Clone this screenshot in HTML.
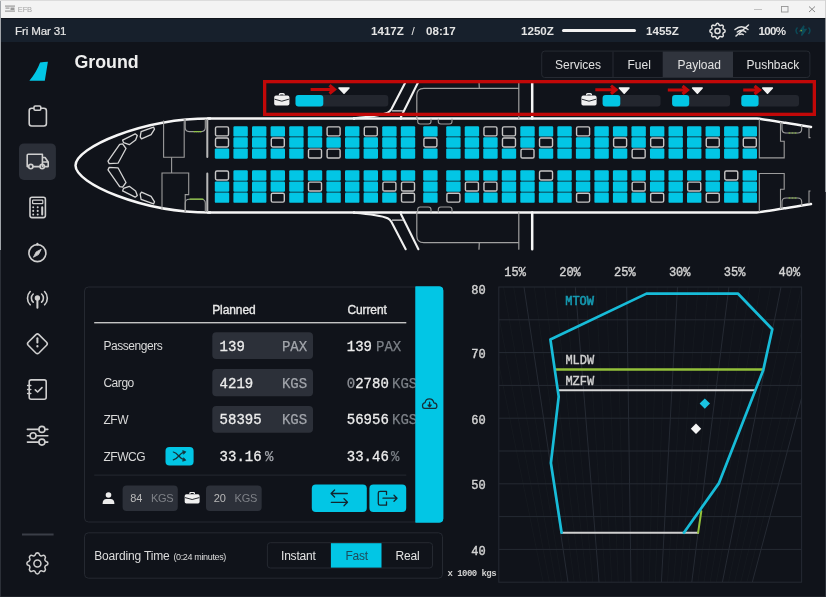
<!DOCTYPE html>
<html><head><meta charset="utf-8">
<style>
html,body{margin:0;padding:0;}
body{width:826px;height:597px;overflow:hidden;background:#10131a;position:relative;font-family:"Liberation Sans",sans-serif;}
svg{position:absolute;left:0;top:0;will-change:transform;}
.s{font-family:"Liberation Sans",sans-serif;}
.m{font-family:"Liberation Mono",monospace;}
</style></head><body>
<svg width="826" height="597" viewBox="0 0 826 597">
<!-- title bar -->
<rect x="0" y="0" width="826" height="18" fill="#f3f3f3"/>
<rect x="0" y="18" width="826" height="24" fill="#17202c"/>
<rect x="0" y="18" width="826" height="1" fill="#10141b"/>
<!-- window borders -->
<rect x="0" y="0" width="1" height="250" fill="#a0a4a9"/>
<rect x="0" y="250" width="1" height="347" fill="#2c3038"/>
<rect x="825" y="18" width="1" height="174" fill="#8c9096"/>
<rect x="825" y="192" width="1" height="405" fill="#2c3038"/>
<rect x="1" y="596" width="824" height="1" fill="#1f2229"/>
<rect x="0" y="0" width="826" height="1" fill="#dcdcdc"/>
<g fill="#9a9a9a"><rect x="5" y="5.5" width="10" height="1.2"/><rect x="5.5" y="7.5" width="4" height="1.2"/><rect x="10.5" y="7.5" width="4" height="2.5"/><rect x="5" y="10.5" width="10" height="1.2"/></g>
<text x="17.8" y="11.7" class="s" font-size="7.6" fill="#a4a4a4" letter-spacing="-0.2">EFB</text>
<line x1="754" y1="9.5" x2="762" y2="9.5" stroke="#b4b4b4" stroke-width="0.8"/>
<rect x="825" y="0" width="1" height="18" fill="#d2d2d2"/>
<rect x="781.5" y="6.5" width="6.5" height="5.5" fill="none" stroke="#959595" stroke-width="0.9"/>
<path d="M809 6.5 L815 12 M815 6.5 L809 12" stroke="#8a8a8a" stroke-width="1"/>

<!-- status bar -->
<text x="15" y="35" class="s" font-size="11.6" fill="#e4e4e4" stroke="#e4e4e4" stroke-width="0.2" letter-spacing="-0.15">Fri Mar 31</text>
<text x="371" y="34.6" class="s" font-size="11.6" font-weight="bold" fill="#e4e4e4">1417Z</text>
<text x="411.5" y="34.6" class="s" font-size="11.6" fill="#e4e4e4">/</text>
<text x="426" y="34.6" class="s" font-size="11.6" font-weight="bold" fill="#e4e4e4">08:17</text>
<text x="521" y="34.6" class="s" font-size="11.6" font-weight="bold" fill="#e4e4e4">1250Z</text>
<rect x="562" y="29" width="74" height="3" rx="1.5" fill="#f2f2f2"/>
<text x="646" y="34.6" class="s" font-size="11.6" font-weight="bold" fill="#e4e4e4">1455Z</text>
<text x="758.5" y="34.8" class="s" font-size="11.6" font-weight="bold" fill="#e4e4e4" letter-spacing="-0.7">100%</text>


<!-- SIDEBAR -->
<path d="M40.1,62.4 Q44,61.7 47.9,61.7 L44.8,80.7 L29.4,80.7 Q36.5,72 40.1,62.4 Z" fill="#02c6e5"/>
<rect x="19" y="143.4" width="36.9" height="36.6" rx="5" fill="#2b2f38"/>
<g fill="none" stroke="#cfcfcf" stroke-width="1.6" stroke-linecap="round" stroke-linejoin="round">
 <!-- clipboard -->
 <rect x="29.2" y="108.2" width="17.2" height="17.8" rx="2.5"/>
 <rect x="34" y="106" width="6.8" height="4.2" rx="1.2" fill="#10131a"/>
 <!-- truck -->
 <circle cx="30.8" cy="166.6" r="2.2"/>
 <circle cx="42.2" cy="166.6" r="2.2"/>
 <path d="M28.6,166.6 L27.2,166.6 L27.2,155.2 Q27.2,154.2 28.2,154.2 L42.4,154.2 L42.4,166.6 M33,166.6 L40,166.6 M44.4,166.6 L48.2,166.6 L48.2,162 L42.4,162 M42.4,157.5 L45,157.5 L48.2,162"/>
 <!-- calculator -->
 <rect x="30" y="197.2" width="15.4" height="20.4" rx="2"/>
 <rect x="32.6" y="200.2" width="10.2" height="3.4" rx="0.6" stroke-width="1.2"/>
 <path d="M33.2,207.2 L33.2,207.3 M37.7,207.2 L37.7,207.3 M42.2,207.2 L42.2,214.5 M33.2,210.8 L33.2,210.9 M37.7,210.8 L37.7,210.9 M33.2,214.4 L33.2,214.5 M37.7,214.4 L37.7,214.5" stroke-width="2"/>
 <!-- compass -->
 <circle cx="37.4" cy="253.1" r="8.5"/>
 <path d="M37.4,244.6 L37.4,243.8" stroke-width="2.2"/>
 <path d="M33.6,256.9 L36.2,251.9 L41.2,249.3 L38.6,254.3 Z" fill="#cfcfcf" stroke-width="0.9"/>
 <!-- antenna -->
 <circle cx="37.4" cy="298" r="1.9" fill="#cfcfcf"/>
 <path d="M37.4,300 L37.4,307.8" stroke-width="2"/>
 <path d="M33.2,294 A5.5,5.5 0 0 0 33.2,302.2 M41.6,294 A5.5,5.5 0 0 1 41.6,302.2"/>
 <path d="M30.2,291.5 A9.5,9.5 0 0 0 30.2,304.8 M44.6,291.5 A9.5,9.5 0 0 1 44.6,304.8"/>
 <!-- warning -->
 <path d="M35.9,334.6 Q37.4,333.2 38.9,334.6 L46.6,342.3 Q48,343.8 46.6,345.3 L38.9,353 Q37.4,354.4 35.9,353 L28.2,345.3 Q26.8,343.8 28.2,342.3 Z"/>
 <path d="M37.4,338.2 L37.4,342.6" stroke-width="2"/>
 <path d="M37.4,346.2 L37.4,346.4" stroke-width="2.2"/>
 <!-- checklist -->
 <rect x="29.2" y="379.9" width="17" height="19.3" rx="2"/>
 <path d="M27.6,385.6 L30.8,385.6 M27.6,389.6 L30.8,389.6 M27.6,393.6 L30.8,393.6" stroke-width="1.5"/>
 <path d="M35.3,389.8 L37.6,392 L42,387.6"/>
 <!-- sliders -->
 <path d="M27.4,429.4 L38.9,429.4 M44.9,429.4 L47.8,429.4 M27.4,435.8 L30.1,435.8 M36.1,435.8 L47.8,435.8 M27.4,442.1 L38.9,442.1 M44.9,442.1 L47.8,442.1"/>
 <circle cx="41.9" cy="429.4" r="3"/>
 <circle cx="33.1" cy="435.8" r="3"/>
 <circle cx="41.9" cy="442.1" r="3"/>
 <!-- gear -->
 <g transform="translate(37.4,563.4) scale(1.17) translate(-12,-12)"><path d="M10.325 4.317c.426 -1.756 2.924 -1.756 3.35 0a1.724 1.724 0 0 0 2.573 1.066c1.543 -.94 3.31 .826 2.37 2.37a1.724 1.724 0 0 0 1.065 2.572c1.756 .426 1.756 2.924 0 3.35a1.724 1.724 0 0 0 -1.066 2.573c.94 1.543 -.826 3.31 -2.37 2.37a1.724 1.724 0 0 0 -2.572 1.065c-.426 1.756 -2.924 1.756 -3.35 0a1.724 1.724 0 0 0 -2.573 -1.066c-1.543 .94 -3.31 -.826 -2.37 -2.37a1.724 1.724 0 0 0 -1.065 -2.572c-1.756 -.426 -1.756 -2.924 0 -3.35a1.724 1.724 0 0 0 1.066 -2.573c-.94 -1.543 .826 -3.31 2.37 -2.37c1 .608 2.296 .07 2.572 -1.065z" stroke-width="1.3"/><circle cx="12" cy="12" r="3" stroke-width="1.3"/></g>
</g>
<rect x="22" y="533.5" width="31.6" height="2" fill="#3a3e47"/>

<!-- HEADER -->
<text x="74.5" y="68.4" class="s" font-size="17.8" font-weight="bold" fill="#efefef">Ground</text>
<!-- tabs -->
<rect x="541.7" y="51.1" width="268.2" height="26.4" rx="3" fill="#10131a" stroke="#262a32" stroke-width="1"/>
<rect x="662.7" y="51.6" width="70.3" height="25.4" fill="#30343d"/>
<line x1="613" y1="51.6" x2="613" y2="77" stroke="#262a32" stroke-width="1"/>
<g class="s" font-size="12" fill="#e2e2e2">
 <text x="555" y="69">Services</text>
 <text x="627.5" y="69">Fuel</text>
 <text x="677.5" y="69">Payload</text>
 <text x="746.5" y="69">Pushback</text>
</g>
<!-- status icons -->
<g fill="none" stroke="#e0e0e0" stroke-width="1.5" stroke-linejoin="round" stroke-linecap="round">
 <g transform="translate(717.5,31) scale(0.85) translate(-12,-12)"><path d="M10.325 4.317c.426 -1.756 2.924 -1.756 3.35 0a1.724 1.724 0 0 0 2.573 1.066c1.543 -.94 3.31 .826 2.37 2.37a1.724 1.724 0 0 0 1.065 2.572c1.756 .426 1.756 2.924 0 3.35a1.724 1.724 0 0 0 -1.066 2.573c.94 1.543 -.826 3.31 -2.37 2.37a1.724 1.724 0 0 0 -2.572 1.065c-.426 1.756 -2.924 1.756 -3.35 0a1.724 1.724 0 0 0 -2.573 -1.066c-1.543 .94 -3.31 -.826 -2.37 -2.37a1.724 1.724 0 0 0 -1.065 -2.572c-1.756 -.426 -1.756 -2.924 0 -3.35a1.724 1.724 0 0 0 1.066 -2.573c-.94 -1.543 .826 -3.31 2.37 -2.37c1 .608 2.296 .07 2.572 -1.065z" stroke-width="1.75"/><circle cx="12" cy="12" r="3" stroke-width="1.75"/></g>
 <path d="M735,29.5 Q741.5,24 748,29.5 M737.3,32 Q741.5,28.5 745.7,32 M739.8,34.5 Q741.5,33.3 743.2,34.5 M736,36 L748.5,25"/>
</g>
<g fill="none" stroke="#0c4a58" stroke-width="1.4">
 <path d="M797.5,27.5 Q794.5,30.5 797.5,34 M808.5,27.5 Q811.5,30.5 808.5,34"/>
 <path d="M804,25.7 L800,31 L803,31 L801.5,35.5 L806,29.5 L803,29.5 Z" fill="#0c4a58"/>
</g>
<circle cx="801.2" cy="30.6" r="0.8" fill="#7fa030"/>

<rect x="215.50" y="126.90" width="13.00" height="8.95" rx="1.4" fill="#10131a" stroke="#c6c6c6" stroke-width="1.4"/>
<rect x="215.50" y="138.00" width="13.00" height="8.95" rx="1.4" fill="#10131a" stroke="#c6c6c6" stroke-width="1.4"/>
<rect x="214.80" y="148.40" width="14.4" height="10.35" rx="1.2" fill="#02c6e5"/>
<rect x="215.50" y="171.00" width="13.00" height="8.95" rx="1.4" fill="#10131a" stroke="#c6c6c6" stroke-width="1.4"/>
<rect x="214.80" y="181.40" width="14.4" height="10.35" rx="1.2" fill="#02c6e5"/>
<rect x="214.80" y="192.50" width="14.4" height="10.35" rx="1.2" fill="#02c6e5"/>
<rect x="233.40" y="126.20" width="14.4" height="10.35" rx="1.2" fill="#02c6e5"/>
<rect x="233.40" y="137.30" width="14.4" height="10.35" rx="1.2" fill="#02c6e5"/>
<rect x="233.40" y="148.40" width="14.4" height="10.35" rx="1.2" fill="#02c6e5"/>
<rect x="233.40" y="170.30" width="14.4" height="10.35" rx="1.2" fill="#02c6e5"/>
<rect x="233.40" y="181.40" width="14.4" height="10.35" rx="1.2" fill="#02c6e5"/>
<rect x="233.40" y="192.50" width="14.4" height="10.35" rx="1.2" fill="#02c6e5"/>
<rect x="252.00" y="126.20" width="14.4" height="10.35" rx="1.2" fill="#02c6e5"/>
<rect x="252.00" y="137.30" width="14.4" height="10.35" rx="1.2" fill="#02c6e5"/>
<rect x="252.00" y="148.40" width="14.4" height="10.35" rx="1.2" fill="#02c6e5"/>
<rect x="252.00" y="170.30" width="14.4" height="10.35" rx="1.2" fill="#02c6e5"/>
<rect x="252.00" y="181.40" width="14.4" height="10.35" rx="1.2" fill="#02c6e5"/>
<rect x="252.00" y="192.50" width="14.4" height="10.35" rx="1.2" fill="#02c6e5"/>
<rect x="270.60" y="126.20" width="14.4" height="10.35" rx="1.2" fill="#02c6e5"/>
<rect x="271.30" y="138.00" width="13.00" height="8.95" rx="1.4" fill="#10131a" stroke="#c6c6c6" stroke-width="1.4"/>
<rect x="270.60" y="148.40" width="14.4" height="10.35" rx="1.2" fill="#02c6e5"/>
<rect x="270.60" y="170.30" width="14.4" height="10.35" rx="1.2" fill="#02c6e5"/>
<rect x="270.60" y="181.40" width="14.4" height="10.35" rx="1.2" fill="#02c6e5"/>
<rect x="271.30" y="193.20" width="13.00" height="8.95" rx="1.4" fill="#10131a" stroke="#c6c6c6" stroke-width="1.4"/>
<rect x="289.20" y="126.20" width="14.4" height="10.35" rx="1.2" fill="#02c6e5"/>
<rect x="289.20" y="137.30" width="14.4" height="10.35" rx="1.2" fill="#02c6e5"/>
<rect x="289.20" y="148.40" width="14.4" height="10.35" rx="1.2" fill="#02c6e5"/>
<rect x="289.20" y="170.30" width="14.4" height="10.35" rx="1.2" fill="#02c6e5"/>
<rect x="289.20" y="181.40" width="14.4" height="10.35" rx="1.2" fill="#02c6e5"/>
<rect x="289.20" y="192.50" width="14.4" height="10.35" rx="1.2" fill="#02c6e5"/>
<rect x="307.80" y="126.20" width="14.4" height="10.35" rx="1.2" fill="#02c6e5"/>
<rect x="307.80" y="137.30" width="14.4" height="10.35" rx="1.2" fill="#02c6e5"/>
<rect x="308.50" y="149.10" width="13.00" height="8.95" rx="1.4" fill="#10131a" stroke="#c6c6c6" stroke-width="1.4"/>
<rect x="307.80" y="170.30" width="14.4" height="10.35" rx="1.2" fill="#02c6e5"/>
<rect x="308.50" y="182.10" width="13.00" height="8.95" rx="1.4" fill="#10131a" stroke="#c6c6c6" stroke-width="1.4"/>
<rect x="307.80" y="192.50" width="14.4" height="10.35" rx="1.2" fill="#02c6e5"/>
<rect x="327.10" y="126.90" width="13.00" height="8.95" rx="1.4" fill="#10131a" stroke="#c6c6c6" stroke-width="1.4"/>
<rect x="326.40" y="137.30" width="14.4" height="10.35" rx="1.2" fill="#02c6e5"/>
<rect x="327.10" y="149.10" width="13.00" height="8.95" rx="1.4" fill="#10131a" stroke="#c6c6c6" stroke-width="1.4"/>
<rect x="326.40" y="170.30" width="14.4" height="10.35" rx="1.2" fill="#02c6e5"/>
<rect x="326.40" y="181.40" width="14.4" height="10.35" rx="1.2" fill="#02c6e5"/>
<rect x="326.40" y="192.50" width="14.4" height="10.35" rx="1.2" fill="#02c6e5"/>
<rect x="345.00" y="126.20" width="14.4" height="10.35" rx="1.2" fill="#02c6e5"/>
<rect x="345.00" y="137.30" width="14.4" height="10.35" rx="1.2" fill="#02c6e5"/>
<rect x="345.00" y="148.40" width="14.4" height="10.35" rx="1.2" fill="#02c6e5"/>
<rect x="345.00" y="170.30" width="14.4" height="10.35" rx="1.2" fill="#02c6e5"/>
<rect x="345.00" y="181.40" width="14.4" height="10.35" rx="1.2" fill="#02c6e5"/>
<rect x="345.00" y="192.50" width="14.4" height="10.35" rx="1.2" fill="#02c6e5"/>
<rect x="364.30" y="126.90" width="13.00" height="8.95" rx="1.4" fill="#10131a" stroke="#c6c6c6" stroke-width="1.4"/>
<rect x="363.60" y="137.30" width="14.4" height="10.35" rx="1.2" fill="#02c6e5"/>
<rect x="363.60" y="148.40" width="14.4" height="10.35" rx="1.2" fill="#02c6e5"/>
<rect x="363.60" y="170.30" width="14.4" height="10.35" rx="1.2" fill="#02c6e5"/>
<rect x="363.60" y="181.40" width="14.4" height="10.35" rx="1.2" fill="#02c6e5"/>
<rect x="363.60" y="192.50" width="14.4" height="10.35" rx="1.2" fill="#02c6e5"/>
<rect x="382.20" y="126.20" width="14.4" height="10.35" rx="1.2" fill="#02c6e5"/>
<rect x="382.20" y="137.30" width="14.4" height="10.35" rx="1.2" fill="#02c6e5"/>
<rect x="382.20" y="148.40" width="14.4" height="10.35" rx="1.2" fill="#02c6e5"/>
<rect x="382.20" y="170.30" width="14.4" height="10.35" rx="1.2" fill="#02c6e5"/>
<rect x="382.90" y="182.10" width="13.00" height="8.95" rx="1.4" fill="#10131a" stroke="#c6c6c6" stroke-width="1.4"/>
<rect x="382.20" y="192.50" width="14.4" height="10.35" rx="1.2" fill="#02c6e5"/>
<rect x="400.80" y="126.20" width="14.4" height="10.35" rx="1.2" fill="#02c6e5"/>
<rect x="400.80" y="137.30" width="14.4" height="10.35" rx="1.2" fill="#02c6e5"/>
<rect x="400.80" y="148.40" width="14.4" height="10.35" rx="1.2" fill="#02c6e5"/>
<rect x="400.80" y="170.30" width="14.4" height="10.35" rx="1.2" fill="#02c6e5"/>
<rect x="401.50" y="182.10" width="13.00" height="8.95" rx="1.4" fill="#10131a" stroke="#c6c6c6" stroke-width="1.4"/>
<rect x="401.50" y="193.20" width="13.00" height="8.95" rx="1.4" fill="#10131a" stroke="#c6c6c6" stroke-width="1.4"/>
<rect x="423.20" y="126.20" width="14.4" height="10.35" rx="1.2" fill="#02c6e5"/>
<rect x="423.90" y="138.00" width="13.00" height="8.95" rx="1.4" fill="#10131a" stroke="#c6c6c6" stroke-width="1.4"/>
<rect x="423.20" y="148.40" width="14.4" height="10.35" rx="1.2" fill="#02c6e5"/>
<rect x="423.20" y="170.30" width="14.4" height="10.35" rx="1.2" fill="#02c6e5"/>
<rect x="423.20" y="181.40" width="14.4" height="10.35" rx="1.2" fill="#02c6e5"/>
<rect x="423.20" y="192.50" width="14.4" height="10.35" rx="1.2" fill="#02c6e5"/>
<rect x="446.20" y="126.20" width="14.4" height="10.35" rx="1.2" fill="#02c6e5"/>
<rect x="446.20" y="137.30" width="14.4" height="10.35" rx="1.2" fill="#02c6e5"/>
<rect x="446.20" y="148.40" width="14.4" height="10.35" rx="1.2" fill="#02c6e5"/>
<rect x="446.20" y="170.30" width="14.4" height="10.35" rx="1.2" fill="#02c6e5"/>
<rect x="446.20" y="181.40" width="14.4" height="10.35" rx="1.2" fill="#02c6e5"/>
<rect x="446.90" y="193.20" width="13.00" height="8.95" rx="1.4" fill="#10131a" stroke="#c6c6c6" stroke-width="1.4"/>
<rect x="464.72" y="126.20" width="14.4" height="10.35" rx="1.2" fill="#02c6e5"/>
<rect x="464.72" y="137.30" width="14.4" height="10.35" rx="1.2" fill="#02c6e5"/>
<rect x="464.72" y="148.40" width="14.4" height="10.35" rx="1.2" fill="#02c6e5"/>
<rect x="464.72" y="170.30" width="14.4" height="10.35" rx="1.2" fill="#02c6e5"/>
<rect x="465.42" y="182.10" width="13.00" height="8.95" rx="1.4" fill="#10131a" stroke="#c6c6c6" stroke-width="1.4"/>
<rect x="464.72" y="192.50" width="14.4" height="10.35" rx="1.2" fill="#02c6e5"/>
<rect x="483.95" y="126.90" width="13.00" height="8.95" rx="1.4" fill="#10131a" stroke="#c6c6c6" stroke-width="1.4"/>
<rect x="483.25" y="137.30" width="14.4" height="10.35" rx="1.2" fill="#02c6e5"/>
<rect x="483.25" y="148.40" width="14.4" height="10.35" rx="1.2" fill="#02c6e5"/>
<rect x="483.25" y="170.30" width="14.4" height="10.35" rx="1.2" fill="#02c6e5"/>
<rect x="483.95" y="182.10" width="13.00" height="8.95" rx="1.4" fill="#10131a" stroke="#c6c6c6" stroke-width="1.4"/>
<rect x="483.25" y="192.50" width="14.4" height="10.35" rx="1.2" fill="#02c6e5"/>
<rect x="502.47" y="126.90" width="13.00" height="8.95" rx="1.4" fill="#10131a" stroke="#c6c6c6" stroke-width="1.4"/>
<rect x="502.47" y="138.00" width="13.00" height="8.95" rx="1.4" fill="#10131a" stroke="#c6c6c6" stroke-width="1.4"/>
<rect x="501.77" y="148.40" width="14.4" height="10.35" rx="1.2" fill="#02c6e5"/>
<rect x="501.77" y="170.30" width="14.4" height="10.35" rx="1.2" fill="#02c6e5"/>
<rect x="501.77" y="181.40" width="14.4" height="10.35" rx="1.2" fill="#02c6e5"/>
<rect x="501.77" y="192.50" width="14.4" height="10.35" rx="1.2" fill="#02c6e5"/>
<rect x="520.30" y="126.20" width="14.4" height="10.35" rx="1.2" fill="#02c6e5"/>
<rect x="520.30" y="137.30" width="14.4" height="10.35" rx="1.2" fill="#02c6e5"/>
<rect x="521.00" y="149.10" width="13.00" height="8.95" rx="1.4" fill="#10131a" stroke="#c6c6c6" stroke-width="1.4"/>
<rect x="520.30" y="170.30" width="14.4" height="10.35" rx="1.2" fill="#02c6e5"/>
<rect x="520.30" y="181.40" width="14.4" height="10.35" rx="1.2" fill="#02c6e5"/>
<rect x="520.30" y="192.50" width="14.4" height="10.35" rx="1.2" fill="#02c6e5"/>
<rect x="538.83" y="126.20" width="14.4" height="10.35" rx="1.2" fill="#02c6e5"/>
<rect x="539.53" y="138.00" width="13.00" height="8.95" rx="1.4" fill="#10131a" stroke="#c6c6c6" stroke-width="1.4"/>
<rect x="538.83" y="148.40" width="14.4" height="10.35" rx="1.2" fill="#02c6e5"/>
<rect x="539.53" y="171.00" width="13.00" height="8.95" rx="1.4" fill="#10131a" stroke="#c6c6c6" stroke-width="1.4"/>
<rect x="538.83" y="181.40" width="14.4" height="10.35" rx="1.2" fill="#02c6e5"/>
<rect x="538.83" y="192.50" width="14.4" height="10.35" rx="1.2" fill="#02c6e5"/>
<rect x="557.35" y="126.20" width="14.4" height="10.35" rx="1.2" fill="#02c6e5"/>
<rect x="557.35" y="137.30" width="14.4" height="10.35" rx="1.2" fill="#02c6e5"/>
<rect x="557.35" y="148.40" width="14.4" height="10.35" rx="1.2" fill="#02c6e5"/>
<rect x="557.35" y="170.30" width="14.4" height="10.35" rx="1.2" fill="#02c6e5"/>
<rect x="557.35" y="181.40" width="14.4" height="10.35" rx="1.2" fill="#02c6e5"/>
<rect x="557.35" y="192.50" width="14.4" height="10.35" rx="1.2" fill="#02c6e5"/>
<rect x="576.58" y="126.90" width="13.00" height="8.95" rx="1.4" fill="#10131a" stroke="#c6c6c6" stroke-width="1.4"/>
<rect x="575.88" y="137.30" width="14.4" height="10.35" rx="1.2" fill="#02c6e5"/>
<rect x="575.88" y="148.40" width="14.4" height="10.35" rx="1.2" fill="#02c6e5"/>
<rect x="575.88" y="170.30" width="14.4" height="10.35" rx="1.2" fill="#02c6e5"/>
<rect x="575.88" y="181.40" width="14.4" height="10.35" rx="1.2" fill="#02c6e5"/>
<rect x="576.58" y="193.20" width="13.00" height="8.95" rx="1.4" fill="#10131a" stroke="#c6c6c6" stroke-width="1.4"/>
<rect x="594.40" y="126.20" width="14.4" height="10.35" rx="1.2" fill="#02c6e5"/>
<rect x="594.40" y="137.30" width="14.4" height="10.35" rx="1.2" fill="#02c6e5"/>
<rect x="594.40" y="148.40" width="14.4" height="10.35" rx="1.2" fill="#02c6e5"/>
<rect x="594.40" y="170.30" width="14.4" height="10.35" rx="1.2" fill="#02c6e5"/>
<rect x="594.40" y="181.40" width="14.4" height="10.35" rx="1.2" fill="#02c6e5"/>
<rect x="594.40" y="192.50" width="14.4" height="10.35" rx="1.2" fill="#02c6e5"/>
<rect x="612.92" y="126.20" width="14.4" height="10.35" rx="1.2" fill="#02c6e5"/>
<rect x="613.62" y="138.00" width="13.00" height="8.95" rx="1.4" fill="#10131a" stroke="#c6c6c6" stroke-width="1.4"/>
<rect x="612.92" y="148.40" width="14.4" height="10.35" rx="1.2" fill="#02c6e5"/>
<rect x="612.92" y="170.30" width="14.4" height="10.35" rx="1.2" fill="#02c6e5"/>
<rect x="612.92" y="181.40" width="14.4" height="10.35" rx="1.2" fill="#02c6e5"/>
<rect x="612.92" y="192.50" width="14.4" height="10.35" rx="1.2" fill="#02c6e5"/>
<rect x="631.45" y="126.20" width="14.4" height="10.35" rx="1.2" fill="#02c6e5"/>
<rect x="631.45" y="137.30" width="14.4" height="10.35" rx="1.2" fill="#02c6e5"/>
<rect x="632.15" y="149.10" width="13.00" height="8.95" rx="1.4" fill="#10131a" stroke="#c6c6c6" stroke-width="1.4"/>
<rect x="631.45" y="170.30" width="14.4" height="10.35" rx="1.2" fill="#02c6e5"/>
<rect x="632.15" y="182.10" width="13.00" height="8.95" rx="1.4" fill="#10131a" stroke="#c6c6c6" stroke-width="1.4"/>
<rect x="631.45" y="192.50" width="14.4" height="10.35" rx="1.2" fill="#02c6e5"/>
<rect x="649.97" y="126.20" width="14.4" height="10.35" rx="1.2" fill="#02c6e5"/>
<rect x="650.67" y="138.00" width="13.00" height="8.95" rx="1.4" fill="#10131a" stroke="#c6c6c6" stroke-width="1.4"/>
<rect x="649.97" y="148.40" width="14.4" height="10.35" rx="1.2" fill="#02c6e5"/>
<rect x="649.97" y="170.30" width="14.4" height="10.35" rx="1.2" fill="#02c6e5"/>
<rect x="649.97" y="181.40" width="14.4" height="10.35" rx="1.2" fill="#02c6e5"/>
<rect x="650.67" y="193.20" width="13.00" height="8.95" rx="1.4" fill="#10131a" stroke="#c6c6c6" stroke-width="1.4"/>
<rect x="668.50" y="126.20" width="14.4" height="10.35" rx="1.2" fill="#02c6e5"/>
<rect x="668.50" y="137.30" width="14.4" height="10.35" rx="1.2" fill="#02c6e5"/>
<rect x="668.50" y="148.40" width="14.4" height="10.35" rx="1.2" fill="#02c6e5"/>
<rect x="668.50" y="170.30" width="14.4" height="10.35" rx="1.2" fill="#02c6e5"/>
<rect x="668.50" y="181.40" width="14.4" height="10.35" rx="1.2" fill="#02c6e5"/>
<rect x="668.50" y="192.50" width="14.4" height="10.35" rx="1.2" fill="#02c6e5"/>
<rect x="687.02" y="126.20" width="14.4" height="10.35" rx="1.2" fill="#02c6e5"/>
<rect x="687.02" y="137.30" width="14.4" height="10.35" rx="1.2" fill="#02c6e5"/>
<rect x="687.02" y="148.40" width="14.4" height="10.35" rx="1.2" fill="#02c6e5"/>
<rect x="687.02" y="170.30" width="14.4" height="10.35" rx="1.2" fill="#02c6e5"/>
<rect x="687.73" y="182.10" width="13.00" height="8.95" rx="1.4" fill="#10131a" stroke="#c6c6c6" stroke-width="1.4"/>
<rect x="687.02" y="192.50" width="14.4" height="10.35" rx="1.2" fill="#02c6e5"/>
<rect x="705.55" y="126.20" width="14.4" height="10.35" rx="1.2" fill="#02c6e5"/>
<rect x="706.25" y="138.00" width="13.00" height="8.95" rx="1.4" fill="#10131a" stroke="#c6c6c6" stroke-width="1.4"/>
<rect x="705.55" y="148.40" width="14.4" height="10.35" rx="1.2" fill="#02c6e5"/>
<rect x="705.55" y="170.30" width="14.4" height="10.35" rx="1.2" fill="#02c6e5"/>
<rect x="705.55" y="181.40" width="14.4" height="10.35" rx="1.2" fill="#02c6e5"/>
<rect x="706.25" y="193.20" width="13.00" height="8.95" rx="1.4" fill="#10131a" stroke="#c6c6c6" stroke-width="1.4"/>
<rect x="724.08" y="126.20" width="14.4" height="10.35" rx="1.2" fill="#02c6e5"/>
<rect x="724.08" y="137.30" width="14.4" height="10.35" rx="1.2" fill="#02c6e5"/>
<rect x="724.08" y="148.40" width="14.4" height="10.35" rx="1.2" fill="#02c6e5"/>
<rect x="724.78" y="171.00" width="13.00" height="8.95" rx="1.4" fill="#10131a" stroke="#c6c6c6" stroke-width="1.4"/>
<rect x="724.08" y="181.40" width="14.4" height="10.35" rx="1.2" fill="#02c6e5"/>
<rect x="724.08" y="192.50" width="14.4" height="10.35" rx="1.2" fill="#02c6e5"/>
<rect x="742.60" y="126.20" width="14.4" height="10.35" rx="1.2" fill="#02c6e5"/>
<rect x="743.30" y="138.00" width="13.00" height="8.95" rx="1.4" fill="#10131a" stroke="#c6c6c6" stroke-width="1.4"/>
<rect x="742.60" y="148.40" width="14.4" height="10.35" rx="1.2" fill="#02c6e5"/>
<rect x="742.60" y="170.30" width="14.4" height="10.35" rx="1.2" fill="#02c6e5"/>
<rect x="742.60" y="181.40" width="14.4" height="10.35" rx="1.2" fill="#02c6e5"/>
<rect x="742.60" y="192.50" width="14.4" height="10.35" rx="1.2" fill="#02c6e5"/>

<!-- AIRCRAFT -->
<g fill="none" stroke-linecap="round" stroke-linejoin="round">
 <!-- fuselage -->
 <path d="M210,118.5 C141.8,118.5 75.5,147.5 75.5,165.5 C75.5,183.5 141.8,212.5 210,212.5" stroke="#f6f6f6" stroke-width="2.5"/>
 <path d="M208,118.5 L354,118.5 M400.9,118.5 L757,118.5 Q760,118.6 811,127" stroke="#f6f6f6" stroke-width="2.5"/>
 <path d="M208,212.5 L354,212.5 M400.9,212.5 L757,212.5 Q760,212.4 811,204" stroke="#f6f6f6" stroke-width="2.5"/>
 <path d="M354,118.5 L354,118.5" stroke="#f6f6f6" stroke-width="2.5"/>
 <path d="M354,212.5 L400.9,212.5 M354,118.5 L400.9,118.5" stroke="#f6f6f6" stroke-width="2.5"/>
 <!-- wings -->
 <path d="M354,212.8 Q380,215 387.6,218.3 Q390,219.5 391.5,222 L405.7,249.2 M400.9,214 L418.4,249.2" stroke="#f0f0f0" stroke-width="2.1"/>
 <path d="M392.4,220.1 L402.5,220.1" stroke="#d8d8d8" stroke-width="1.3"/>
 <path d="M354,118.2 Q380,116 387.6,112.7 Q390,111.5 391.5,109 L405.7,81.8 M400.9,117 L418.4,81.8" stroke="#f0f0f0" stroke-width="2.1"/>
 <path d="M392.4,110.9 L402.5,110.9" stroke="#d8d8d8" stroke-width="1.3"/>
 <!-- wing boxes -->
 <path d="M416.8,118.5 L416.8,95.3 Q416.8,88.3 423.8,88.3 L518.8,88.3 M518.8,81.8 L518.8,118.5 M479,81.8 L479.3,88.3" stroke="#a0a0a0" stroke-width="1.2"/>
 <path d="M416.8,212.5 L416.8,235.7 Q416.8,242.7 423.8,242.7 L518.8,242.7 M518.8,249.2 L518.8,212.5 M479,249.2 L479.3,242.7" stroke="#a0a0a0" stroke-width="1.2"/>
 <path d="M532.2,81.8 L532.2,118.5 M532.2,212.5 L532.2,249.2" stroke="#f6f6f6" stroke-width="2.5"/>
 <!-- cockpit windows -->
 <g stroke="#d4d4d4" stroke-width="1.3">
  <path d="M141.1,131.7 L153.6,127.1 L154.5,129.2 L151.1,134.7 L141.5,138.9 L140.2,136.8 Z"/>
  <path d="M122.6,140.1 L135.2,133.8 L137.3,135.5 L135.6,140.1 L129.3,144.7 L123.5,142.6 Z"/>
  <path d="M108,161.1 L119.7,144.3 L122.6,143.9 L126,148.5 L118,163.2 L109.2,163.6 Z"/>
  <path d="M141.1,199.3 L153.6,203.9 L154.5,201.8 L151.1,196.3 L141.5,192.1 L140.2,194.2 Z"/>
  <path d="M122.6,190.9 L135.2,197.2 L137.3,195.5 L135.6,190.9 L129.3,186.3 L123.5,188.4 Z"/>
  <path d="M108,169.9 L119.7,186.7 L122.6,187.1 L126,182.5 L118,167.8 L109.2,167.4 Z"/>
 </g>
 <!-- front galley -->
 <g stroke="#9c9c9c" stroke-width="1.1" stroke-linecap="butt" stroke-linejoin="miter">
  <path d="M163.6,120.5 L163.6,157.2 L184.2,157.2 L184.2,119"/>
  <path d="M171.6,157.2 L171.6,173"/>
  <path d="M162,209.8 L162,173 L188.7,173 L188.7,194.6 L185.2,194.6 L185.2,211.5"/>
  <path d="M185.2,119 L185.2,127.6 Q185.2,131.6 189.2,131.6 L201.3,131.6 Q205.3,131.6 205.3,127.6 L205.3,119"/>
  <path d="M185.2,212 L185.2,203.2 Q185.2,199.2 189.2,199.2 L201.3,199.2 Q205.3,199.2 205.3,203.2 L205.3,212"/>
 </g>
 <path d="M194,131.6 L201,131.6" stroke="#8cc63f" stroke-width="1.1" stroke-dasharray="1 1"/>
 <path d="M190,199.2 L203,199.2" stroke="#8cc63f" stroke-width="1.2"/>
 <path d="M207.3,120 L207.3,157 M207.3,173.5 L207.3,211" stroke="#b8b8b8" stroke-width="2"/>
 <!-- overwing exits -->
 <g stroke="#9c9c9c" stroke-width="1.1">
  <path d="M417.7,119 L417.7,121.5 Q417.7,124 420.2,124 L428.5,124 Q431,124 431,121.5 L431,119"/>
  <path d="M438.3,119 L438.3,121.5 Q438.3,124 440.8,124 L449.5,124 Q452,124 452,121.5 L452,119"/>
  <path d="M417.7,212 L417.7,209.5 Q417.7,207 420.2,207 L428.5,207 Q431,207 431,209.5 L431,212"/>
  <path d="M438.3,212 L438.3,209.5 Q438.3,207 440.8,207 L449.5,207 Q452,207 452,209.5 L452,212"/>
 </g>
 <!-- rear galley -->
 <g stroke="#9c9c9c" stroke-width="1.1" stroke-linecap="butt" stroke-linejoin="miter">
  <path d="M759.3,119 L759.3,157.9 L784.2,157.9 L784.2,141.3 L780.5,141.3 L780.5,122"/>
  <path d="M759.3,212 L759.3,173.5 L784.2,173.5 L784.2,189.2 L780.5,189.2 L780.5,209"/>
  <path d="M782,122.3 L782,129 Q782,133 786,133 L797.7,133 Q801.7,133 801.7,129 L801.7,125"/>
  <path d="M782,208.7 L782,202 Q782,198 786,198 L797.7,198 Q801.7,198 801.7,202 L801.7,206"/>
  <path d="M809,127 L809,137.6 L810.5,137.6 M809,204 L809,191 L810.5,191"/>
 </g>
 <path d="M789,133 L797,133 M789,198 L797,198" stroke="#8cc63f" stroke-width="1" stroke-dasharray="1 2"/>
</g>
<!-- red annotation box -->
<rect x="264.65" y="81.65" width="549.7" height="32.7" fill="none" stroke="#c20808" stroke-width="3.3"/>
<!-- cargo -->
<g>
 <rect x="295.5" y="95" width="92.8" height="11.4" rx="3" fill="#23262e"/>
 <rect x="295.5" y="95" width="27.8" height="11.4" rx="3" fill="#02c6e5"/>
 <rect x="602.6" y="95" width="58" height="11.4" rx="3" fill="#23262e"/>
 <rect x="602.6" y="95" width="17.7" height="11.4" rx="3" fill="#02c6e5"/>
 <rect x="672.1" y="95" width="58" height="11.4" rx="3" fill="#23262e"/>
 <rect x="672.1" y="95" width="17.1" height="11.4" rx="3" fill="#02c6e5"/>
 <rect x="741.3" y="95" width="57.7" height="11.4" rx="3" fill="#23262e"/>
 <rect x="741.3" y="95" width="17.3" height="11.4" rx="3" fill="#02c6e5"/>
 <g fill="#f4f4f4" stroke="#f4f4f4" stroke-width="1.5" stroke-linejoin="round">
  <path d="M339,88 L349,88 L344,93.3 Z"/>
  <path d="M619.4,88 L629,88 L624.2,93.3 Z"/>
  <path d="M692.6,88 L702.2,88 L697.4,93.3 Z"/>
  <path d="M762.7,88 L772.4,88 L767.5,93.3 Z"/>
 </g>
 <g fill="none" stroke="#c20808" stroke-width="3.1" stroke-linecap="butt" stroke-linejoin="miter">
  <path d="M310.6,89.5 L334,89.5 M329.5,85.3 L334.5,89.5 L329.5,93.5"/>
  <path d="M595.3,89.8 L615.5,89.8 M611,85.6 L616,89.8 L611,93.8"/>
  <path d="M667.8,90 L687,90 M682.5,86 L687.5,90 L682.5,94"/>
  <path d="M743.2,90 L759,90 M754.5,86 L759.5,90 L754.5,94"/>
 </g>
 <g id="bc">
 </g>
</g>


<!-- cargo briefcases -->
<g fill="#f0f0f0">
 <path d="M278.8,94.5 Q278.8,93 280.3,93 L283.3,93 Q284.8,93 284.8,94.5 L284.8,95.3 L283.4,95.3 L283.4,94.4 L280.2,94.4 L280.2,95.3 L278.8,95.3 Z"/>
 <rect x="274.2" y="95.6" width="15.2" height="10" rx="1.8"/>
 <path d="M274.6,99.2 L281.8,101.2 L288.9,99.2" stroke="#10131a" stroke-width="0.9" fill="none"/>
 <path d="M586,94.5 Q586,93 587.5,93 L590.5,93 Q592,93 592,94.5 L592,95.3 L590.6,95.3 L590.6,94.4 L587.4,94.4 L587.4,95.3 L586,95.3 Z"/>
 <rect x="581.4" y="95.6" width="15.2" height="10" rx="1.8"/>
 <path d="M581.8,99.2 L589,101.2 L596.1,99.2" stroke="#10131a" stroke-width="0.9" fill="none"/>
</g>

<!-- PAYLOAD PANEL -->
<rect x="84.5" y="287" width="358.5" height="235" rx="4" fill="none" stroke="#252931" stroke-width="1"/>
<path d="M415.5,286.5 L439.2,286.5 Q443.2,286.5 443.2,290.5 L443.2,518.5 Q443.2,522.5 439.2,522.5 L415.5,522.5 Z" fill="#02c6e5"/>
<g class="s" font-size="12" fill="#e8e8e8" stroke="#e8e8e8" stroke-width="0.35">
 <text x="212.2" y="314" letter-spacing="-0.1">Planned</text>
 <text x="347.4" y="314" letter-spacing="-0.1">Current</text>
</g>
<rect x="94.2" y="322" width="312.1" height="1.4" fill="#c4c4c4"/>
<g class="s" font-size="12" fill="#dadada" letter-spacing="-0.45">
 <text x="103.4" y="350">Passengers</text>
 <text x="103.4" y="386.8">Cargo</text>
 <text x="103.4" y="424">ZFW</text>
 <text x="103.4" y="460.6">ZFWCG</text>
</g>
<g fill="#2c3039">
 <rect x="212.3" y="332.2" width="100.7" height="26.8" rx="4"/>
 <rect x="212.3" y="369" width="100.7" height="27.2" rx="4"/>
 <rect x="212.3" y="405.9" width="100.7" height="26.9" rx="4"/>
</g>
<g class="m" font-size="14" fill="#ececec" stroke="#ececec" stroke-width="0.3">
 <text x="219.6" y="350.6">139</text>
 <text x="219.6" y="387.5">4219</text>
 <text x="219.6" y="424.3">58395</text>
 <text x="219.6" y="460.5">33.16</text>
 <text x="346.8" y="350.6">139</text>
 <text x="346.8" y="387.5"><tspan fill="#8a8d93" stroke="#8a8d93">0</tspan>2780</text>
 <text x="346.8" y="424.3">56956</text>
 <text x="346.8" y="460.5">33.46</text>
</g>
<g class="m" font-size="14" fill="#a2a5ab" stroke="#a2a5ab" stroke-width="0.25">
 <text x="281.9" y="350.6">PAX</text>
 <text x="281.9" y="387.5">KGS</text>
 <text x="281.9" y="424.3">KGS</text>
 <text x="265" y="460.5">%</text>
</g>
<g class="m" font-size="14" fill="#7c8087" stroke="#7c8087" stroke-width="0.25">
 <text x="376" y="350.6">PAX</text>
 <text x="392" y="387.5">KGS</text>
 <text x="392" y="424.3">KGS</text>
 <text x="391" y="460.5">%</text>
</g>
<path d="M415.5,286.5 L439.2,286.5 Q443.2,286.5 443.2,290.5 L443.2,518.5 Q443.2,522.5 439.2,522.5 L415.5,522.5 Z" fill="#02c6e5"/>
<!-- cloud icon -->
<g fill="none" stroke="#163038" stroke-width="1.25" stroke-linecap="round" stroke-linejoin="round">
 <path d="M424.6,408.4 L434.6,408.4 Q436.9,408.4 436.9,405.9 Q436.9,403.2 433.9,402.9 Q433,398.9 429.4,398.9 Q425.7,398.9 425.1,402.6 Q422.5,403 422.5,405.7 Q422.5,408.4 424.6,408.4 Z"/>
 <path d="M429.6,402.2 L429.6,406.4"/>
 <path d="M428,405 L429.6,406.8 L431.2,405 Z" fill="#163038"/>
</g>
<!-- shuffle -->
<rect x="165.5" y="446.9" width="28.1" height="18.7" rx="4" fill="#02c6e5"/>
<g fill="none" stroke="#163038" stroke-width="1.2" stroke-linecap="round" stroke-linejoin="round">
 <path d="M173.3,452 Q176,452.6 178.8,456 Q181.6,459.4 184.3,459.7 M173.3,459.9 Q176,459.3 178.8,456 Q181.6,452.6 184.3,452.2"/>
 <path d="M183,450.8 L185.8,451.8 L183.8,454 Z M183.8,458 L185.8,460.2 L183,461.1 Z" fill="#163038" stroke-width="0.8"/>
</g>
<rect x="94.2" y="474.6" width="312.1" height="1" fill="#252931"/>
<!-- person -->
<g fill="#ececec">
 <circle cx="108.5" cy="495" r="2.8"/>
 <path d="M102.6,504 Q102.6,499 106.5,499 L110.5,499 Q114.4,499 114.4,504 Z"/>
</g>
<rect x="122.6" y="485.6" width="55.2" height="25.4" rx="4" fill="#2c3039"/>
<rect x="206" y="485.6" width="55.7" height="25.4" rx="4" fill="#2c3039"/>
<g fill="#f0f0f0">
 <path d="M189.3,493.2 Q189.3,491.9 190.6,491.9 L193.7,491.9 Q195,491.9 195,493.2 L195,494 L193.7,494 L193.7,493.1 L190.6,493.1 L190.6,494 L189.3,494 Z"/>
 <rect x="184.7" y="494.3" width="14.9" height="9.1" rx="1.6"/>
 <path d="M185,497.6 L192.15,499.5 L199.3,497.6" stroke="#10131a" stroke-width="0.9" fill="none"/>
</g>
<g class="s" font-size="11" fill="#b9b9b9">
 <text x="130.2" y="502.2">84</text>
 <text x="213.7" y="502.2">20</text>
</g>
<g class="s" font-size="11" fill="#7f8288">
 <text x="151" y="502.2" letter-spacing="-0.3">KGS</text>
 <text x="234.6" y="502.2" letter-spacing="-0.3">KGS</text>
</g>
<rect x="311.8" y="484.5" width="55" height="27.6" rx="4" fill="#02c6e5"/>
<rect x="369.4" y="484.5" width="36.8" height="27.6" rx="4" fill="#02c6e5"/>
<g fill="none" stroke="#13262f" stroke-width="1.3" stroke-linecap="round" stroke-linejoin="round">
 <path d="M347.3,493.5 L331.3,493.5 M334.6,490 L331.1,493.5 L334.6,497 M331.3,502.3 L347.3,502.3 M344,498.8 L347.5,502.3 L344,505.8"/>
 <path d="M386.5,491.3 L380,491.3 Q378.3,491.3 378.3,493 L378.3,503.5 Q378.3,505.2 380,505.2 L386.5,505.2 M386.5,491.3 L386.5,494.5 M386.5,505.2 L386.5,502 M383,498.2 L397,498.2 M394,495.2 L397,498.2 L394,501.2"/>
</g>

<!-- BOARDING PANEL -->
<rect x="84.5" y="532.8" width="358" height="45.4" rx="4" fill="none" stroke="#252931" stroke-width="1"/>
<text x="94.2" y="560" class="s" font-size="12" fill="#dcdcdc" letter-spacing="-0.15">Boarding Time</text>
<text x="173.4" y="559.8" class="s" font-size="9" fill="#dcdcdc" letter-spacing="-0.35">(0:24 minutes)</text>
<rect x="267.4" y="542.7" width="165.1" height="25.3" rx="3" fill="none" stroke="#252931" stroke-width="1"/>
<rect x="330.9" y="543.2" width="50.6" height="24.4" fill="#02c6e5"/>
<g class="s" font-size="12" fill="#e4e4e4">
 <text x="281" y="559.9" letter-spacing="-0.2">Instant</text>
 <text x="345.4" y="559.9" fill="#1c4a5a" letter-spacing="-0.2">Fast</text>
 <text x="395.5" y="559.9" letter-spacing="-0.2">Real</text>
</g>

<!-- CHART -->
<defs><clipPath id="plotclip"><rect x="498.8" y="287" width="302.8" height="295.2"/></clipPath></defs>
<g clip-path="url(#plotclip)"><path d="M483.0,287 L543.2,582.2 M493.2,287 L549.4,582.2 M503.5,287 L555.6,582.2 M513.7,287 L561.8,582.2 M534.3,287 L574.2,582.2 M544.5,287 L580.4,582.2 M554.8,287 L586.6,582.2 M565.0,287 L592.8,582.2 M585.6,287 L605.4,582.2 M595.9,287 L611.8,582.2 M606.1,287 L618.2,582.2 M616.4,287 L624.6,582.2 M636.9,287 L637.1,582.2 M647.0,287 L643.2,582.2 M657.2,287 L649.2,582.2 M667.3,287 L655.3,582.2 M687.8,287 L667.5,582.2 M698.1,287 L673.6,582.2 M708.3,287 L679.6,582.2 M718.6,287 L685.7,582.2 M739.3,287 L697.9,582.2 M749.7,287 L704.0,582.2 M760.2,287 L710.2,582.2 M770.6,287 L716.3,582.2 M791.4,287 L728.5,582.2 M801.8,287 L734.6,582.2 M812.3,287 L740.8,582.2 M822.7,287 L746.9,582.2" stroke="#15191f" stroke-width="1" fill="none"/></g>
<g stroke="#252a33" stroke-width="1" fill="none">
 <rect x="498.8" y="287" width="302.8" height="295.2"/>
 <path d="M498.8,319.8 H801.6 M498.8,352.6 H801.6 M498.8,385.4 H801.6 M498.8,418.2 H801.6 M498.8,451 H801.6 M498.8,483.8 H801.6 M498.8,516.6 H801.6 M498.8,549.4 H801.6"/>
 <path d="M524,287 L568,582.2 M575.3,287 L599,582.2 M626.7,287 L631,582.2 M677.5,287 L661.4,582.2 M728.9,287 L691.8,582.2 M781,287 L722.4,582.2 M801.6,398 L752.3,582.2"/>
</g>
<g class="m" font-size="12" fill="#d2d2d2" stroke="#d2d2d2" stroke-width="0.4">
 <text x="504.3" y="276">15%</text>
 <text x="559.2" y="276">20%</text>
 <text x="614" y="276">25%</text>
 <text x="668.9" y="276">30%</text>
 <text x="723.8" y="276">35%</text>
 <text x="778.6" y="276">40%</text>
 <text x="471.2" y="293.6">80</text>
 <text x="471.2" y="358.4">70</text>
 <text x="471.2" y="423.8">60</text>
 <text x="471.2" y="489.2">50</text>
 <text x="471.2" y="554.6">40</text>
</g>
<text x="447.5" y="576.2" class="m" font-size="9" font-weight="bold" fill="#d0d0d0" letter-spacing="-0.55">x 1000 kgs</text>
<g fill="none" stroke-linecap="round" stroke-linejoin="round">
 <path d="M561.6,532.8 L698.1,532.8" stroke="#cfcfcf" stroke-width="2"/>
 <path d="M698.1,532.8 L701.3,511.3" stroke="#93c13a" stroke-width="2"/>
 <path d="M556,369.5 L762.6,369.5" stroke="#93c13a" stroke-width="2.6"/>
 <path d="M558.9,390.2 L755.2,390.2" stroke="#d8d8d8" stroke-width="2"/>
 <path d="M561.6,532.7 L550.9,463 L558.7,396.6 L550.4,339.5 L646.5,293.6 L738.1,293.7 L772.3,329.2 L763.2,370.3 L719,483.1 L683.9,532.7" stroke="#17bcd8" stroke-width="2.7"/>
</g>
<g class="m" font-size="12" stroke-width="0.4">
 <text x="565.2" y="305.3" fill="#1699b0" stroke="#1699b0" stroke-width="0.6">MTOW</text>
 <text x="565.4" y="364.2" fill="#d0d0d0" stroke="#d0d0d0">MLDW</text>
 <text x="565.4" y="385" fill="#d0d0d0" stroke="#d0d0d0">MZFW</text>
</g>
<path d="M704.8,398.4 L710,403.6 L704.8,408.8 L699.6,403.6 Z" fill="#1ac4e2"/>
<path d="M696,423.6 L701.2,428.8 L696,434 L690.8,428.8 Z" fill="#f4f4f4"/>

</svg>
</body></html>
